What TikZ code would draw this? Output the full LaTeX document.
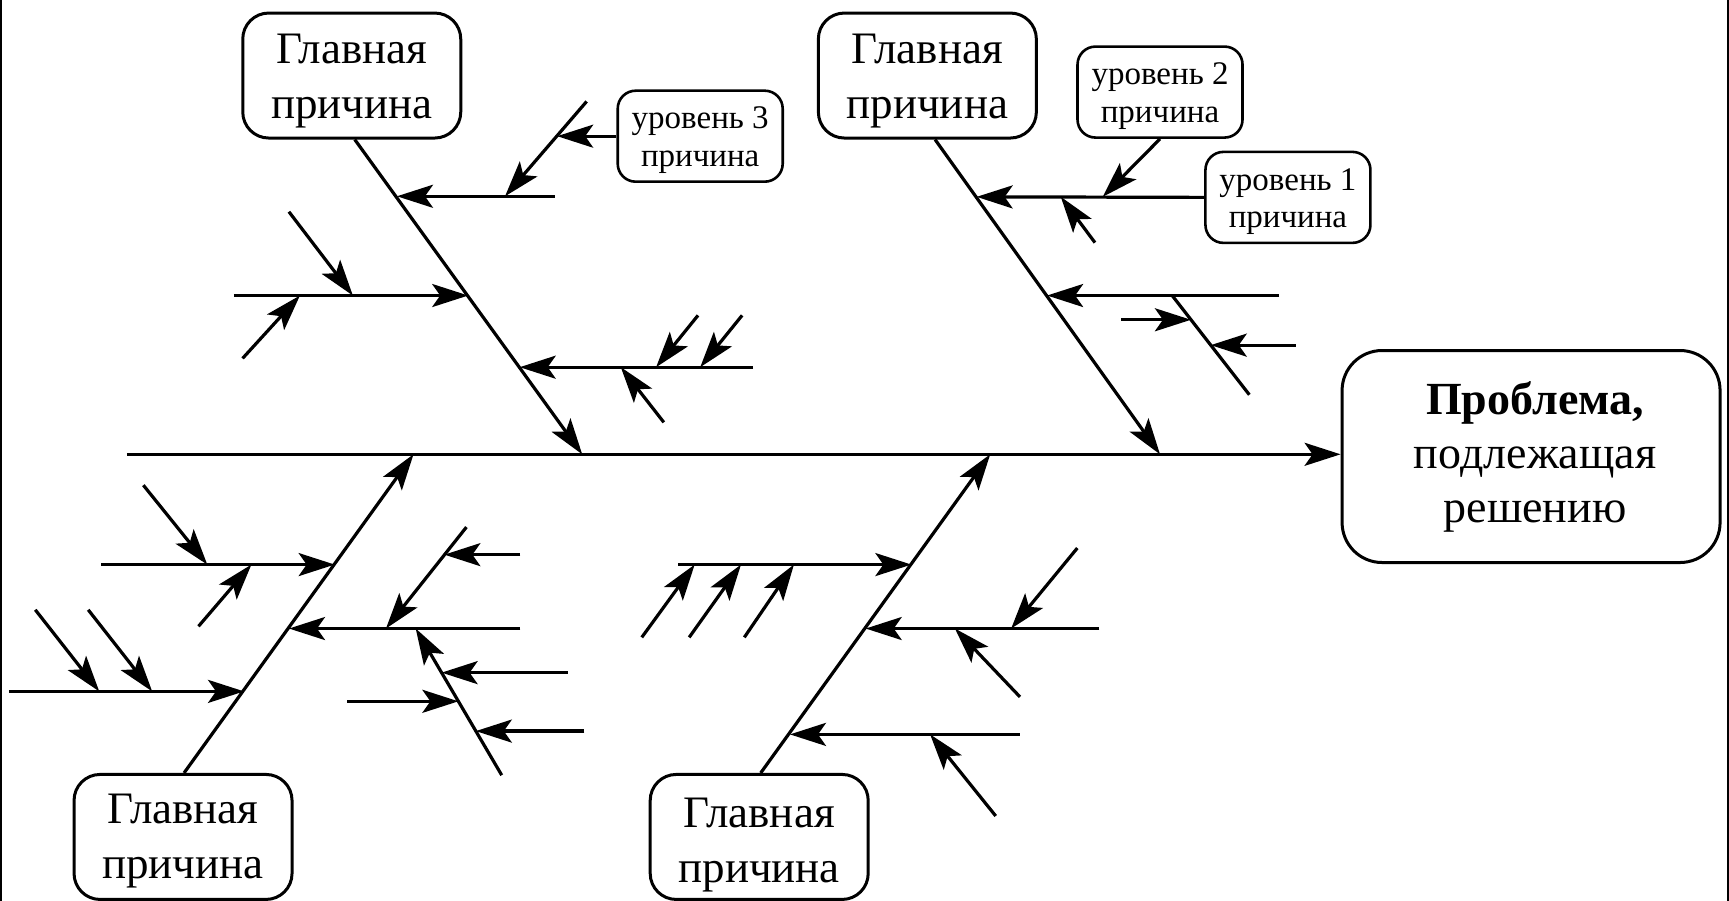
\documentclass[tikz,border=0pt]{standalone}
\usepackage{fontspec}
\setmainfont{Liberation Serif}
\usetikzlibrary{arrows.meta,calc}
\begin{document}
\begin{tikzpicture}[x=1.1027pt,y=-1.1027pt,
  ln/.style={line width=3.2pt},
  arr/.style={ln,-{Stealth[length=36pt,width=23pt,inset=8pt]}},
  mainbox/.style={draw,line width=3pt,rounded corners=26pt,minimum width=218pt,minimum height=125pt,inner sep=0pt},
  maintext/.style={inner sep=0pt,align=center,font=\fontsize{45}{55}\selectfont},
  lvlbox/.style={draw,line width=2.6pt,rounded corners=18pt,minimum width=165pt,minimum height=91pt,inner sep=0pt},
  lvltext/.style={inner sep=0pt,align=center,font=\fontsize{33}{37.5}\selectfont},
  probbox/.style={draw,line width=3pt,rounded corners=40pt,minimum width=378pt,minimum height=212pt,inner sep=0pt},
  probtext/.style={inner sep=0pt,align=center,font=\fontsize{46}{54}\selectfont}
]
\useasboundingbox (0,0) rectangle (1568,817);
\fill[black] (0,0) rectangle (2,817);
\fill[black] (1566,0) rectangle (1568,817);

% boxes
\node[mainbox] (tl) at (319,68.5) {};
\node[mainbox] (tr) at (841,68.5) {};
\node[mainbox] (bl) at (166,759) {};
\node[mainbox] (br) at (688.5,759) {};
\node[lvlbox] (lv3) at (635,123.5) {};
\node[lvlbox] (lv2) at (1052,83.5) {};
\node[lvlbox] (lv1) at (1168,179) {};
\node[probbox] (prob) at (1388.5,414) {};

\node[maintext] (tlt) at ([yshift=-6pt]tl.center) {Главная\\причина};
\node[maintext] (trt) at ([yshift=-6pt]tr.center) {Главная\\причина};
\node[maintext] (blt) at ([yshift=-4pt]bl.center) {Главная\\причина};
\node[maintext] (brt) at ([yshift=-8pt]br.center) {Главная\\причина};
\node[lvltext] (lv3t) at ([yshift=-4pt]lv3.center) {уровень 3\\причина};
\node[lvltext] (lv2t) at ([yshift=-4pt]lv2.center) {уровень 2\\причина};
\node[lvltext] (lv1t) at ([yshift=-4pt]lv1.center) {уровень 1\\причина};
\node[probtext] (probt) at ([xshift=4pt,yshift=0pt]prob.center) {\textbf{Проблема,}\\подлежащая\\решению};

% spine
\coordinate (sp0) at (115,412);
\draw[arr] (sp0) -- (sp0 -| prob.west);

% bone end points on spine
\coordinate (s1) at (528,412);
\coordinate (s2) at (1052,412);
\coordinate (s3) at (375,412);
\coordinate (s4) at (898,412);

\draw[arr] ([xshift=3pt]tl.south) -- (s1);
\draw[arr] ([xshift=7.7pt]tr.south) -- (s2);
\draw[arr] ([xshift=1pt]bl.north) -- (s3);
\draw[arr] ([xshift=1.5pt]br.north) -- (s4);

% ---- top-left bone
\coordinate (a1) at (360,178);   \coordinate (a1e) at (503,178);
\coordinate (a1s) at (532,92);   \coordinate (a1t) at (458,178);
\coordinate (a1u) at (505.3,123.5);
\draw[arr] (a1e) -- (a1);
\draw[arr] (a1s) -- (a1t);
\draw[arr] (lv3.west) -- (a1u);

\coordinate (a2) at (424.6,268); \coordinate (a2e) at (212,268);
\coordinate (a2p) at (262,192);  \coordinate (a2pt) at (320,268);
\coordinate (a2q) at (220,325);  \coordinate (a2qt) at (272,268);
\draw[arr] (a2e) -- (a2);
\draw[arr] (a2p) -- (a2pt);
\draw[arr] (a2q) -- (a2qt);

\coordinate (a3) at (471.3,333); \coordinate (a3e) at (683,333);
\coordinate (a3p) at (633,286);  \coordinate (a3pt) at (595,333);
\coordinate (a3q) at (673,286);  \coordinate (a3qt) at (635,333);
\coordinate (a3r) at (602,383);  \coordinate (a3rt) at (563,333);
\draw[arr] (a3e) -- (a3);
\draw[arr] (a3p) -- (a3pt);
\draw[arr] (a3q) -- (a3qt);
\draw[arr] (a3r) -- (a3rt);

% ---- top-right bone
\coordinate (b1) at (885.7,178.5);
\coordinate (b1t) at (1000,178.5);
\coordinate (b1q) at (993,220);  \coordinate (b1qt) at (962,178.5);
\draw[arr] (lv1.west) -- (b1);
\draw[arr] (lv2.south) -- (b1t);
\draw[arr] (b1q) -- (b1qt);

\coordinate (b2) at (949.6,268); \coordinate (b2e) at (1160,268);
\coordinate (b2k) at (1063,268); \coordinate (b2ke) at (1133,358);
\coordinate (b2p) at (1017,290); \coordinate (b2pt) at (1080,290);
\coordinate (b2q) at (1175,313); \coordinate (b2qt) at (1098,313);
\draw[arr] (b2e) -- (b2);
\draw[ln] (b2k) -- (b2ke);
\draw[arr] (b2p) -- (b2pt);
\draw[arr] (b2q) -- (b2qt);

% ---- bottom-left bone
\coordinate (c1) at (303.5,512); \coordinate (c1e) at (92,512);
\coordinate (c1p) at (130,440);  \coordinate (c1pt) at (188,512);
\coordinate (c1q) at (180,568);  \coordinate (c1qt) at (228,512);
\draw[arr] (c1e) -- (c1);
\draw[arr] (c1p) -- (c1pt);
\draw[arr] (c1q) -- (c1qt);

\coordinate (c2) at (262.1,570); \coordinate (c2e) at (472,570);
\coordinate (c2p) at (423,478);  \coordinate (c2pt) at (350,570);
\coordinate (c2h) at (472,503);  \coordinate (c2ht) at (403,503);
\coordinate (c2k) at (455,703);  \coordinate (c2kt) at (377,570);
\coordinate (c2a) at (515,610);  \coordinate (c2at) at (400.5,610);
\coordinate (c2b) at (315,636);  \coordinate (c2bt) at (415.7,636);
\coordinate (c2c) at (530,663);  \coordinate (c2ct) at (431.5,663);
\draw[arr] (c2e) -- (c2);
\draw[arr] (c2p) -- (c2pt);
\draw[arr] (c2h) -- (c2ht);
\draw[arr] (c2k) -- (c2kt);
\draw[arr] (c2a) -- (c2at);
\draw[arr] (c2b) -- (c2bt);
\draw[arr] (c2c) -- (c2ct);

\coordinate (c3) at (221.3,627); \coordinate (c3e) at (8,627);
\coordinate (c3p) at (32,553);   \coordinate (c3pt) at (90,627);
\coordinate (c3q) at (80,553);   \coordinate (c3qt) at (138,627);
\draw[arr] (c3e) -- (c3);
\draw[arr] (c3p) -- (c3pt);
\draw[arr] (c3q) -- (c3qt);

% ---- bottom-right bone
\coordinate (d1) at (826.5,512); \coordinate (d1e) at (615,512);
\coordinate (d1p) at (582,578);  \coordinate (d1pt) at (630,512);
\coordinate (d1q) at (625,578);  \coordinate (d1qt) at (672,512);
\coordinate (d1r) at (675,578);  \coordinate (d1rt) at (720,512);
\draw[arr] (d1e) -- (d1);
\draw[arr] (d1p) -- (d1pt);
\draw[arr] (d1q) -- (d1qt);
\draw[arr] (d1r) -- (d1rt);

\coordinate (d2) at (785.1,570); \coordinate (d2e) at (997,570);
\coordinate (d2p) at (977,497);  \coordinate (d2pt) at (917,570);
\coordinate (d2q) at (925,632);  \coordinate (d2qt) at (866,570);
\draw[arr] (d2e) -- (d2);
\draw[arr] (d2p) -- (d2pt);
\draw[arr] (d2q) -- (d2qt);

\coordinate (d3) at (716.4,666); \coordinate (d3e) at (925,666);
\coordinate (d3p) at (903,740);  \coordinate (d3pt) at (843.5,666);
\draw[arr] (d3e) -- (d3);
\draw[arr] (d3p) -- (d3pt);
\end{tikzpicture}
\end{document}
